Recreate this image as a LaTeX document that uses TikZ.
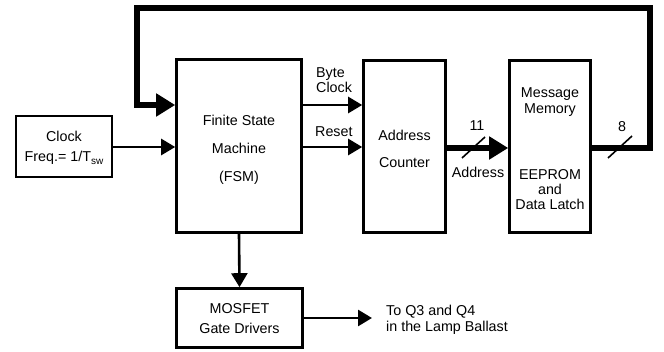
\documentclass[tikz,border=0pt]{standalone}
\usepackage{fontspec}
\setmainfont{Liberation Sans}
\usetikzlibrary{arrows.meta}
\begin{document}
\begin{tikzpicture}[x=1pt,y=-1pt,
  every node/.style={font=\fontsize{14.3}{16}\selectfont, inner sep=0pt},
  box/.style={draw, line width=2.6pt, rectangle},
  lbl/.style={anchor=base},
  lblw/.style={anchor=base west},
  arr/.style={line width=2.6pt, -{Triangle[length=14pt,width=16pt]}},
  busarr/.style={line width=6.5pt, -{Triangle[length=19pt,width=22pt]}},
  slashln/.style={line width=1.6pt}
]
\useasboundingbox (0,0) rectangle (664,352);

% boxes
\node[box, minimum width=96pt, minimum height=61pt] (clk) at (64,146.5) {};
\node[box, minimum width=125pt, minimum height=173pt] (fsm) at (239,146) {};
\node[box, minimum width=82pt, minimum height=172pt] (ctr) at (404.5,146.5) {};
\node[box, minimum width=81pt, minimum height=172pt] (mem) at (550,146.5) {};
\node[box, minimum width=126pt, minimum height=59pt] (mos) at (239.5,318) {};

% helper coordinates
\coordinate (ybc) at (0,105);
\coordinate (yrs) at (0,147);
\coordinate (yab) at (0,148);
\coordinate (fbR) at (650,8);
\coordinate (fbL) at (137,8);
\coordinate (outp) at (372,318);

% connectors
\draw[arr] (clk.east |- yrs) -- (fsm.west |- yrs);
\draw[arr] (fsm.east |- ybc) -- (ctr.west |- ybc);
\draw[arr] (fsm.east |- yrs) -- (ctr.west |- yrs);
\draw[busarr] (ctr.east |- yab) -- (mem.west |- yab);
\draw[busarr] (mem.east |- yab) -| (fbR) -- (fbL) |- (fsm.west |- ybc);
\draw[arr] (fsm.south) -- (mos.north);
\draw[arr] (mos.east) -- (outp);

% bus width slashes
\draw[slashln] (462,158) -- (485,137);
\draw[slashln] (608,158) -- (632,136);

% texts
\node[lbl] (tclk1) at (64,142) {Clock};
\node[lbl] (tclk2) at (64,162) {Freq.= 1/T\raisebox{-0.35ex}{\fontsize{10}{10}\selectfont sw}};
\node[lbl] (tfsm1) at (239,126) {Finite State};
\node[lbl] (tfsm2) at (239,154) {Machine};
\node[lbl] (tfsm3) at (239,182) {(FSM)};
\node[lblw] (tbc1) at (316,78) {Byte};
\node[lblw] (tbc2) at (316,93) {Clock};
\node[lblw] (trs) at (315,137) {Reset};
\node[lbl] (tctr1) at (404.5,141) {Address};
\node[lbl] (tctr2) at (404.5,168) {Counter};
\node[lbl] (tmem1) at (550,98) {Message};
\node[lbl] (tmem2) at (550,114) {Memory};
\node[lbl] (tmem3) at (550,180) {EEPROM};
\node[lbl] (tmem4) at (550,195) {and};
\node[lbl] (tmem5) at (550,210) {Data Latch};
\node[lbl] (t11) at (477,131) {11};
\node[lbl] (tadr) at (478,178) {Address};
\node[lbl] (t8) at (622,132) {8};
\node[lbl] (tmos1) at (239.5,314) {MOSFET};
\node[lbl] (tmos2) at (239.5,334) {Gate Drivers};
\node[lblw] (tq1) at (386,316) {To Q3 and Q4};
\node[lblw] (tq2) at (386,332) {in the Lamp Ballast};
\end{tikzpicture}
\end{document}
